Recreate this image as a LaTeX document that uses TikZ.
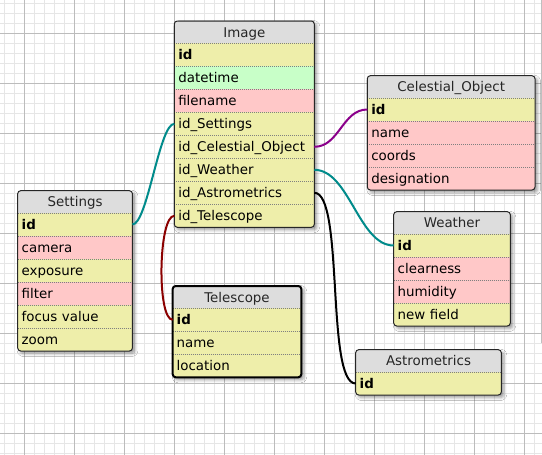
\documentclass[tikz,border=0pt]{standalone}
\usepackage{fontspec}
\setmainfont{DejaVu Sans}
\usetikzlibrary{shadows.blur}
\definecolor{rowY}{RGB}{238,238,170}
\definecolor{rowP}{RGB}{255,200,200}
\definecolor{rowG}{RGB}{200,255,200}
\definecolor{hdr}{RGB}{221,221,221}
\definecolor{gridminor}{RGB}{230,230,230}
\definecolor{gridmajor}{RGB}{188,188,188}
\definecolor{conteal}{RGB}{0,139,139}
\definecolor{conpurple}{RGB}{139,0,139}
\definecolor{conred}{RGB}{139,0,0}
\tikzset{
 tableframe/.style={fill=white, inner sep=0pt, outer sep=0pt, rounded corners=3pt,
   blur shadow={shadow xshift=2.5pt, shadow yshift=-2.5pt, shadow blur radius=3pt, shadow opacity=40}},
 cellhead/.style={fill=hdr, inner sep=0pt, outer sep=0pt, minimum height=22.3pt, text height=10pt, text depth=0pt,
   font=\fontsize{13.4}{15}\selectfont, text=black!85},
 cell/.style={inner xsep=4pt, inner ysep=0pt, outer sep=0pt, minimum height=23pt, text height=10.3pt, text depth=0pt,
   align=left, font=\fontsize{13.4}{15}\selectfont},
 sepline/.style={draw=black!50, line width=0.8pt, dash pattern=on 1pt off 1pt},
 tblborder/.style={draw=black!85, line width=1pt, rounded corners=3pt},
 selborder/.style={draw=black, line width=2pt, rounded corners=3pt},
 conn/.style={line width=2pt},
 gminor/.style={draw=gridminor, line width=1pt},
 gmajor/.style={draw=gridmajor, line width=1pt},
}
\newcommand{\dbtable}[8]{%
 \pgfmathsetmacro{\tblh}{22.3+23*#5}%
 \pgfmathsetmacro{\tblw}{#4-8}%
 \node[tableframe, minimum width=#4pt, minimum height=\tblh pt, anchor=north west] (#1) at (#2,#3) {};
 \begin{scope}
 \clip[rounded corners=3pt] (#1.north west) rectangle (#1.south east);
 \node[cellhead, minimum width=#4pt, anchor=north west] (#1-title) at (#2,#3) {#6};
 \foreach \key/\col/\txt [count=\i from 0] in {#7} {
   \node[cell, fill=\col, text width=\tblw pt, anchor=north west] (#1-\key) at (#2,#3+22.3+23*\i) {\txt};
   \draw[sepline] (#1-\key.north west) -- (#1-\key.north east);
 }
 \end{scope}
 \draw[#8] (#1.north west) rectangle (#1.south east);
}
\begin{document}
\begin{tikzpicture}[x=1pt, y=-1pt]
\useasboundingbox (0,0) rectangle (542,455);
\fill[white] (0,0) rectangle (542,455);
% grid
\foreach \x in {4,14,...,544} \draw[gminor] (\x,0) -- (\x,455);
\foreach \y in {3,13,...,453} \draw[gminor] (0,\y) -- (542,\y);
\foreach \x in {24,74,...,524} \draw[gmajor] (\x,0) -- (\x,455);
\foreach \y in {33,83,...,433} \draw[gmajor] (0,\y) -- (542,\y);
\draw[draw=black!25, line width=1pt] (541,0) -- (541,343);
% tables
\dbtable{image}{174.3}{21}{140}{8}{Image}{id/rowY/\textbf{id}, datetime/rowG/datetime, filename/rowP/filename, settings/rowY/id\_Settings, celestial/rowY/id\_Celestial\_Object, weather/rowY/id\_Weather, astrometrics/rowY/id\_Astrometrics, telescope/rowY/id\_Telescope}{tblborder}
\dbtable{settings}{17.7}{190.7}{114.7}{6}{Settings}{id/rowY/\textbf{id}, camera/rowP/camera, exposure/rowY/exposure, filter/rowP/filter, focus/rowY/focus value, zoom/rowY/zoom}{tblborder}
\dbtable{celestial}{367.3}{75.7}{167.7}{4}{Celestial\_Object}{id/rowY/\textbf{id}, name/rowP/name, coords/rowP/coords, designation/rowP/designation}{tblborder}
\dbtable{telescope}{172.7}{286}{128.6}{3}{Telescope}{id/rowY/\textbf{id}, name/rowY/name, location/rowY/location}{selborder}
\dbtable{weather}{393.7}{211.7}{116.6}{4}{Weather}{id/rowY/\textbf{id}, clearness/rowP/clearness, humidity/rowP/humidity, newfield/rowY/new field}{tblborder}
\dbtable{astrometrics}{355.7}{349.7}{145.6}{1}{Astrometrics}{id/rowY/\textbf{id}}{tblborder}
% connectors
\draw[conn, conteal] (image-settings.west) .. controls ([xshift=-15pt]image-settings.west) and ([xshift=15pt]settings-id.east) .. (settings-id.east);
\draw[conn, conred] (image-telescope.west) .. controls ([xshift=-16pt]image-telescope.west) and ([xshift=-16pt]telescope-id.west) .. (telescope-id.west);
\draw[conn, conpurple] (image-celestial.east) .. controls ([xshift=25pt]image-celestial.east) and ([xshift=-25pt]celestial-id.west) .. (celestial-id.west);
\draw[conn, conteal] (image-weather.east) .. controls ([xshift=35pt]image-weather.east) and ([xshift=-35pt]weather-id.west) .. (weather-id.west);
\draw[conn, black] (image-astrometrics.east) .. controls ([xshift=30pt]image-astrometrics.east) and ([xshift=-30pt]astrometrics-id.west) .. (astrometrics-id.west);
\end{tikzpicture}
\end{document}
